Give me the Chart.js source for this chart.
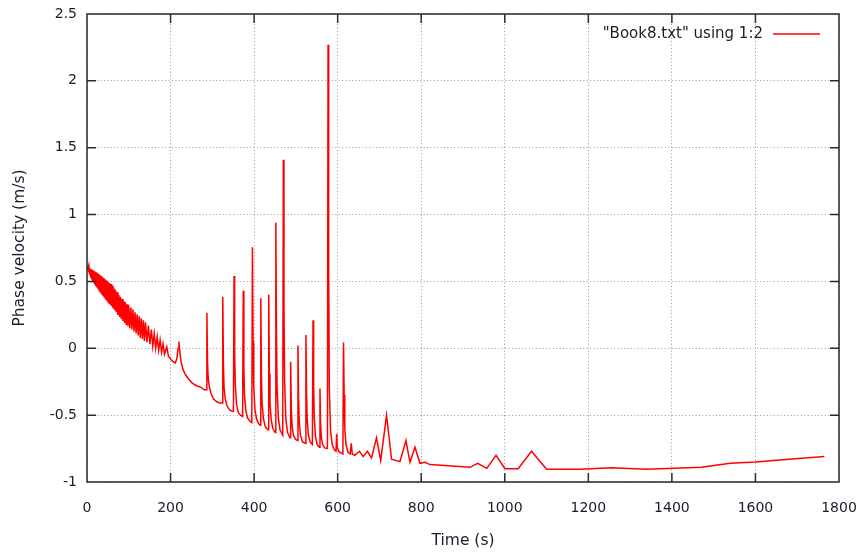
<!DOCTYPE html>
<html>
<head>
<meta charset="utf-8">
<script src="https://cdn.jsdelivr.net/npm/chart.js@4.4.1/dist/chart.umd.min.js"></script>
<style>
  html, body { margin: 0; padding: 0; background: #fff; }
  #wrap { width: 861px; height: 558px; }
</style>
</head>
<body>
<div id="wrap"><canvas id="phaseChart" width="861" height="558"></canvas></div>
<script>
// damped oscillation at the start (0 - 186 s)
const oscTime = [0, 1.25, 2.5, 3.75, 5, 6.25, 7.5, 8.75, 10, 11.25, 12.5, 13.75, 15, 16.25, 17.5, 18.75, 20, 21.25,
  22.5, 23.75, 25, 26.25, 27.5, 28.75, 30, 31.25, 32.5, 33.75, 35, 36.25, 37.5, 38.75, 40, 41.25, 42.5, 43.75,
  45, 46.25, 47.5, 48.75, 50, 51.25, 52.5, 53.75, 55, 56.25, 57.5, 58.75, 60,
  62, 64, 66, 68, 70, 72, 74, 76, 78, 80, 82, 84, 86, 88, 90, 92, 94, 96, 98, 100,
  102.5, 105, 107.5, 110, 112.5, 115, 117.5, 120, 122.5, 125, 127.5, 130, 132.5, 135, 137.5, 140,
  143.5, 147, 150.5, 154, 157.5, 161, 164.5, 168, 171.5, 175, 178.5, 182, 185.5];
const oscVel = [0.62, 0.59, 0.61, 0.57, 0.60, 0.55, 0.595, 0.53, 0.59, 0.515, 0.585, 0.50, 0.58, 0.49, 0.575, 0.475, 0.57, 0.465,
  0.565, 0.455, 0.56, 0.445, 0.555, 0.435, 0.55, 0.425, 0.545, 0.415, 0.54, 0.405, 0.53, 0.395, 0.525, 0.385, 0.52, 0.375,
  0.51, 0.365, 0.505, 0.355, 0.50, 0.345, 0.49, 0.335, 0.485, 0.325, 0.48, 0.315, 0.47,
  0.30, 0.455, 0.285, 0.44, 0.27, 0.42, 0.25, 0.40, 0.235, 0.385, 0.22, 0.37, 0.205, 0.355, 0.19, 0.345, 0.175, 0.33, 0.165, 0.32,
  0.15, 0.305, 0.14, 0.29, 0.125, 0.27, 0.11, 0.255, 0.095, 0.24, 0.08, 0.225, 0.07, 0.21, 0.055, 0.195,
  0.045, 0.17, 0.03, 0.14, 0.015, 0.11, 0.0, 0.085, -0.015, 0.06, -0.03, 0.035, -0.045];

// spiky part (191 - 635 s)
const spikeTime = [191, 195, 200, 206, 211, 215, 218, 220, 222, 225, 230, 236, 243, 252, 262, 272, 281, 285.5,
  287, 288.5, 290, 293, 297, 303, 311, 318, 323.5,
  325, 326.5, 328, 331, 335, 341, 347, 350.5,
  352, 353.5, 355, 358, 362, 367, 372.5,
  374, 375.5, 377, 380, 384, 390, 394.5,
  396, 397.5, 399, 402, 406, 411, 414.5,
  416, 417.5, 419, 422, 426, 430, 433.5,
  435, 436.5, 438, 441, 445, 450.5,
  452, 453.5, 455, 458, 462, 468.5,
  470, 471.5, 473, 476, 480, 486,
  487.5, 489, 491, 494, 499, 503.5,
  505, 506.5, 508, 511, 516, 522.5,
  524, 525.5, 527, 530, 534, 539.5,
  541, 542.5, 544, 547, 551, 556,
  557.7, 559, 561, 564, 569, 575.5,
  577, 578.5, 580, 583, 587, 592, 596,
  597.6, 599, 602, 607, 612.5,
  614, 615.5, 617, 620, 625, 630, 632.5, 635];
const spikeVel = [0.01, -0.06, -0.08, -0.10, -0.11, -0.08, 0.0, 0.05, -0.02, -0.10, -0.16, -0.20, -0.23, -0.26, -0.28, -0.29, -0.31, -0.31,
  0.265, -0.10, -0.22, -0.29, -0.34, -0.38, -0.40, -0.41, -0.41,
  0.386, -0.12, -0.29, -0.38, -0.43, -0.46, -0.47, -0.47,
  0.54, -0.05, -0.28, -0.42, -0.48, -0.50, -0.51,
  0.43, -0.15, -0.35, -0.46, -0.52, -0.545, -0.555,
  0.755, 0.05, -0.28, -0.46, -0.53, -0.565, -0.575,
  0.374, -0.20, -0.40, -0.52, -0.58, -0.60, -0.61,
  0.40, -0.19, -0.40, -0.54, -0.60, -0.63,
  0.94, 0.10, -0.30, -0.52, -0.61, -0.65,
  1.41, 0.30, -0.25, -0.53, -0.63, -0.67,
  -0.10, -0.45, -0.58, -0.65, -0.68, -0.69,
  0.02, -0.38, -0.55, -0.65, -0.70, -0.71,
  0.10, -0.33, -0.53, -0.65, -0.70, -0.72,
  0.21, -0.28, -0.52, -0.66, -0.72, -0.74,
  -0.30, -0.56, -0.67, -0.72, -0.745, -0.75,
  2.27, 0.60, -0.30, -0.62, -0.72, -0.76, -0.77,
  -0.64, -0.74, -0.77, -0.78, -0.79,
  0.044, -0.35, -0.60, -0.72, -0.78, -0.79, -0.71, -0.79];

// sparse tail (640 - 1765 s)
const tailTime = [641, 652, 661, 671, 681, 693, 703, 717, 729, 749, 763.5, 773, 785, 797, 809, 821, 917, 935, 957, 979,
  1000.5, 1032, 1064, 1100, 1180, 1256, 1340, 1470, 1540, 1600, 1680, 1765];
const tailVel = [-0.80, -0.77, -0.81, -0.77, -0.82, -0.67, -0.84, -0.50, -0.83, -0.848, -0.69, -0.853, -0.74, -0.86, -0.853, -0.87, -0.89, -0.86, -0.898, -0.80,
  -0.90, -0.90, -0.77, -0.905, -0.905, -0.893, -0.905, -0.89, -0.86, -0.85, -0.83, -0.81];

const xTicks = [0, 200, 400, 600, 800, 1000, 1200, 1400, 1600, 1800];
const yTicks = [-1, -0.5, 0, 0.5, 1, 1.5, 2, 2.5];
const seriesLabel = '"Book8.txt" using 1:2';

const time = [...oscTime, ...spikeTime, ...tailTime];
const velocity = [...oscVel, ...spikeVel, ...tailVel];
const points = time.map((t, i) => ({ x: t, y: velocity[i] }));

const TICK_FONT = { family: 'DejaVu Sans', size: 14 };
const TITLE_FONT = { family: 'DejaVu Sans', size: 15.5 };
const TEXT = '#1c1c2c';

// gnuplot-ish frame: box + inward ticks on all four sides, plus the key
const framePlugin = {
  id: 'gnuFrame',
  afterDraw(chart) {
    const { ctx, chartArea: a, scales } = chart;
    ctx.save();
    ctx.setLineDash([]);
    ctx.strokeStyle = '#2a2a2a';
    ctx.lineWidth = 1.5;
    ctx.beginPath();
    ctx.moveTo(a.left, a.top);
    ctx.lineTo(a.right, a.top);
    ctx.lineTo(a.right, a.bottom);
    ctx.lineTo(a.left, a.bottom);
    ctx.closePath();
    xTicks.forEach(v => {
      const px = scales.x.getPixelForValue(v);
      ctx.moveTo(px, a.bottom); ctx.lineTo(px, a.bottom - 9);
      ctx.moveTo(px, a.top); ctx.lineTo(px, a.top + 9);
    });
    yTicks.forEach(v => {
      const py = scales.y.getPixelForValue(v);
      ctx.moveTo(a.left, py); ctx.lineTo(a.left + 9, py);
      ctx.moveTo(a.right, py); ctx.lineTo(a.right - 9, py);
    });
    ctx.stroke();

    // key
    ctx.font = '15px ' + TITLE_FONT.family;
    ctx.fillStyle = TEXT;
    ctx.textAlign = 'right';
    ctx.textBaseline = 'middle';
    ctx.fillText(seriesLabel, a.right - 76, a.top + 20);
    ctx.strokeStyle = '#ff0000';
    ctx.lineWidth = 1.4;
    ctx.beginPath();
    ctx.moveTo(a.right - 66, a.top + 20);
    ctx.lineTo(a.right - 19, a.top + 20);
    ctx.stroke();
    ctx.restore();
  }
};

new Chart(document.getElementById('phaseChart'), {
  type: 'line',
  data: {
    datasets: [{
      label: seriesLabel,
      data: points,
      borderColor: '#ff0000',
      borderWidth: 1.5,
      pointRadius: 0,
      tension: 0,
      fill: false
    }]
  },
  options: {
    responsive: false,
    animation: false,
    layout: { padding: { left: 0, right: 22, top: 14, bottom: 0 } },
    plugins: {
      legend: { display: false },
      tooltip: { enabled: false }
    },
    scales: {
      x: {
        type: 'linear',
        min: 0,
        max: 1800,
        afterFit: s => { s.height = 76; s.paddingLeft = 0; s.paddingRight = 0; },
        afterBuildTicks: s => { s.ticks = xTicks.map(v => ({ value: v })); },
        ticks: { font: TICK_FONT, color: TEXT, padding: 18, maxRotation: 0, callback: v => String(v) },
        grid: { color: '#9a9a9a', lineWidth: 1, drawTicks: false },
        border: { display: false, dash: [1, 2.4] },
        title: { display: true, text: 'Time (s)', font: TITLE_FONT, color: TEXT, padding: { top: 0, bottom: 8 } }
      },
      y: {
        type: 'linear',
        min: -1,
        max: 2.5,
        afterFit: s => { s.width = 87; s.paddingTop = 0; s.paddingBottom = 0; },
        afterBuildTicks: s => { s.ticks = yTicks.map(v => ({ value: v })); },
        ticks: { font: TICK_FONT, color: TEXT, padding: 10, callback: v => String(v) },
        grid: { color: '#9a9a9a', lineWidth: 1, drawTicks: false },
        border: { display: false, dash: [1, 2.4] },
        title: { display: true, text: 'Phase velocity (m/s)', font: TITLE_FONT, color: TEXT, padding: { top: 11, bottom: 0 } }
      }
    }
  },
  plugins: [framePlugin]
});
</script>
</body>
</html>
